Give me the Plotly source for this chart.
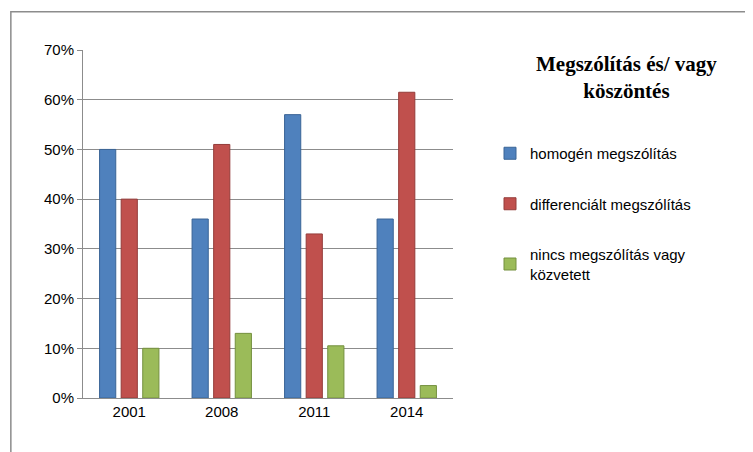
import plotly.graph_objects as go

years = ["2001", "2008", "2011", "2014"]
homogen = [0.50, 0.36, 0.57, 0.36]
differencialt = [0.40, 0.51, 0.33, 0.615]
nincs = [0.10, 0.13, 0.105, 0.025]

series = [
    ("homogén megszólítás", homogen, "#4F81BD", "#3A6496"),
    ("differenciált megszólítás", differencialt, "#C0504D", "#943C3A"),
    ("nincs megszólítás vagy<br>közvetett", nincs, "#9BBB59", "#74903F"),
]

fig = go.Figure()
for i, (name, vals, col, edge) in enumerate(series):
    fig.add_trace(go.Bar(x=years, y=vals, name=name, marker_color=col, legendgroup=str(i),
                         marker_line=dict(color=edge, width=1)))

fig.update_layout(
    width=753, height=452,
    paper_bgcolor="white", plot_bgcolor="white",
    font=dict(family="Liberation Sans", size=15, color="black"),
    margin=dict(l=75, r=308, t=42, b=62),
    bargap=0.3, bargroupgap=0.25,
    yaxis=dict(range=[0, 0.7], dtick=0.1, tickformat=".0%", gridcolor="#8C8C8C",
               showline=True, linecolor="#8C8C8C", ticks="outside", tickcolor="#8C8C8C"),
    xaxis=dict(showline=True, linecolor="#8C8C8C"),
    legend=dict(x=1.1, y=0.75, yanchor="top", tracegroupgap=28,
                font=dict(family="Liberation Sans", size=15)),
    annotations=[dict(text="<b>Megszólítás és/ vagy<br>köszöntés</b>", x=1.47, y=1.0,
                      xref="paper", yref="paper", xanchor="center", yanchor="top",
                      showarrow=False, font=dict(family="Liberation Serif", size=21))],
    shapes=[dict(type="rect", xref="paper", yref="paper", x0=-0.195, y0=-0.17,
                 x1=1.81, y1=1.11, line=dict(color="#8C8C8C", width=1.5))],
)
fig.write_html("out.html")
